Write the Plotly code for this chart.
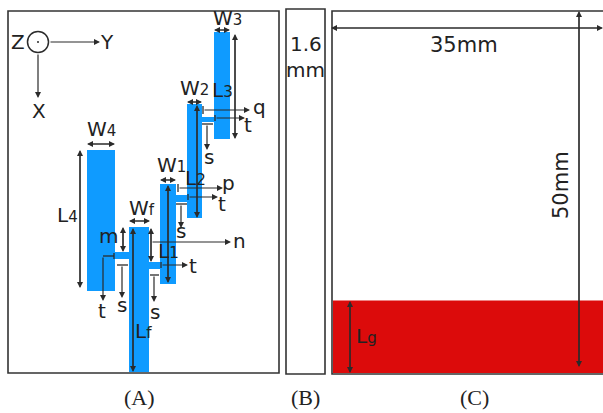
import plotly.graph_objects as go

BLUE = "#0F9BFF"
RED = "#DC0B0B"
DARK = "#2b2b2b"
INK = "#222222"

# panel outlines: x0, x1, y0, y1
panel_names = ["A", "B", "C"]
panel_x0 = [8, 286, 332]
panel_x1 = [279, 325, 604]
panel_y0 = [11, 9, 11]
panel_y1 = [373, 374, 374]

# antenna patches: x0, x1, y0, y1
patch_names = ["W3", "W2", "W1", "W4", "Wf", "c_left", "c_right", "c_mid", "c_top"]
patch_x0 = [214, 187, 160, 87, 129, 115, 149, 176, 202]
patch_x1 = [230, 202, 176, 115, 149, 129, 160, 187, 214]
patch_y0 = [32, 104, 184, 150, 227, 252, 262, 195, 117]
patch_y1 = [139, 218, 284, 291, 372, 259, 269, 202, 122]

# ground plane
ground_x = [333, 604]
ground_y = [300.5, 373]

# one-way arrows: tail x, tail y, head x, head y
single_tx = [49, 38, 203, 215, 207, 178, 188, 181, 151, 161, 154, 122, 103]
single_ty = [42, 53, 110, 118, 124, 188, 197, 204, 242, 265, 275, 265, 256]
single_hx = [100, 38, 250, 245, 207, 223, 218, 181, 231, 188, 154, 122, 103]
single_hy = [42, 98, 110, 118, 150, 188, 197, 228, 242, 265, 302, 298, 301]

# two-way arrows: end a x, y, end b x, y
double_ax = [214, 235, 187, 197, 160, 168, 129, 133, 123, 151, 80, 87, 331, 579, 350]
double_ay = [30, 34, 102, 105, 180, 185, 221, 228, 227, 228, 150, 144, 28, 11, 301]
double_bx = [230, 235, 202, 197, 176, 168, 150, 133, 123, 151, 80, 115, 603, 579, 350]
double_by = [30, 139, 102, 218, 180, 283, 221, 372, 252, 262, 288, 144, 28, 367, 373]

# short bars: x0, y0, x1, y1
bar_x0 = [203, 215, 202, 178, 188, 176, 161, 150, 117, 114, 103]
bar_y0 = [106, 115, 124, 184, 194, 204, 262, 275, 265, 253, 256]
bar_x1 = [203, 215, 213, 178, 188, 187, 161, 159, 128, 114, 114]
bar_y1 = [114, 121, 124, 192, 200, 204, 268, 275, 265, 259, 256]

# labels
label_text = ["Z", "Y", "X", "W<span style='font-size:15px'>3</span>",
              "L<span style='font-size:15px'>3</span>", "W<span style='font-size:15px'>2</span>",
              "q", "t", "s", "W<span style='font-size:15px'>1</span>",
              "L<span style='font-size:15px'>2</span>", "p", "t", "s",
              "W<span style='font-size:15px'>4</span>", "L<span style='font-size:15px'>4</span>",
              "m", "W<span style='font-size:15px'>f</span>", "L<span style='font-size:15px'>1</span>",
              "n", "t", "s", "s", "t", "L<span style='font-size:15px'>f</span>",
              "1.6", "mm", "35mm", "L<span style='font-size:15px'>g</span>"]
label_x = [18, 107, 39, 227, 222, 194, 259, 248, 209, 171, 195, 228, 222, 181,
           101, 67, 108, 142, 168, 239, 193, 122, 155, 102, 143,
           306, 305, 464, 366]
label_y = [42, 42, 111, 18, 90, 88, 107, 125, 157, 165, 178, 183, 204, 231,
           129, 215, 236, 208, 251, 241, 266, 305, 312, 311, 331,
           44, 70, 45, 336]

serif_text = ["(A)", "(B)", "(C)"]
serif_x = [139, 305, 474]
serif_y = [397, 397, 397]

rot_text = ["50mm"]
rot_x = [561]
rot_y = [185]

shapes = []
for x0, x1, y0, y1 in zip(patch_x0, patch_x1, patch_y0, patch_y1):
    shapes.append(dict(type="rect", x0=x0, x1=x1, y0=y0, y1=y1, layer="below",
                       fillcolor=BLUE, line_width=0))
shapes.append(dict(type="rect", x0=ground_x[0], x1=ground_x[1], y0=ground_y[0], y1=ground_y[1],
                   layer="below", fillcolor=RED, line_width=0))
for x0, x1, y0, y1 in zip(panel_x0, panel_x1, panel_y0, panel_y1):
    shapes.append(dict(type="rect", x0=x0, x1=x1, y0=y0, y1=y1,
                       line=dict(color="#333333", width=1.6), fillcolor="rgba(0,0,0,0)"))
for x0, y0, x1, y1 in zip(bar_x0, bar_y0, bar_x1, bar_y1):
    shapes.append(dict(type="line", x0=x0, y0=y0, x1=x1, y1=y1, line=dict(color=DARK, width=1.3)))
shapes.append(dict(type="circle", x0=27.5, x1=48.5, y0=31.5, y1=52.5,
                   line=dict(color=DARK, width=1.5)))
shapes.append(dict(type="circle", x0=37, x1=39, y0=41, y1=43,
                   fillcolor=DARK, line_width=0))

ann = []


def arrow(tx, ty, hx, hy):
    ann.append(dict(x=hx, y=hy, ax=tx, ay=ty, xref="x", yref="y", axref="x", ayref="y",
                    showarrow=True, arrowhead=2, arrowsize=1, arrowwidth=1.2,
                    arrowcolor=DARK, standoff=0, startstandoff=0, text=""))


for tx, ty, hx, hy in zip(single_tx, single_ty, single_hx, single_hy):
    arrow(tx, ty, hx, hy)
for ax_, ay_, bx_, by_ in zip(double_ax, double_ay, double_bx, double_by):
    arrow(ax_, ay_, bx_, by_)
    arrow(bx_, by_, ax_, ay_)

for t, x, y in zip(label_text, label_x, label_y):
    size = 21 if t == "35mm" else 20
    ann.append(dict(x=x, y=y, xref="x", yref="y", text=t, showarrow=False,
                    font=dict(family="DejaVu Sans", size=size, color=INK)))
for t, x, y in zip(serif_text, serif_x, serif_y):
    ann.append(dict(x=x, y=y, xref="x", yref="y", text=t, showarrow=False,
                    font=dict(family="Liberation Serif", size=22, color=INK)))
for t, x, y in zip(rot_text, rot_x, rot_y):
    ann.append(dict(x=x, y=y, xref="x", yref="y", text=t, showarrow=False, textangle=-90,
                    font=dict(family="DejaVu Sans", size=21, color=INK)))

fig = go.Figure()
fig.update_layout(
    width=603, height=413, margin=dict(l=0, r=0, t=0, b=0, autoexpand=False),
    paper_bgcolor="white", plot_bgcolor="white", showlegend=False,
    xaxis=dict(range=[0, 603], visible=False, fixedrange=True),
    yaxis=dict(range=[413, 0], visible=False, fixedrange=True),
    shapes=shapes, annotations=ann,
)
fig.write_html("out.html", config=dict(displayModeBar=False),
               post_script="document.body.style.margin='0';document.body.style.overflow='hidden';")
